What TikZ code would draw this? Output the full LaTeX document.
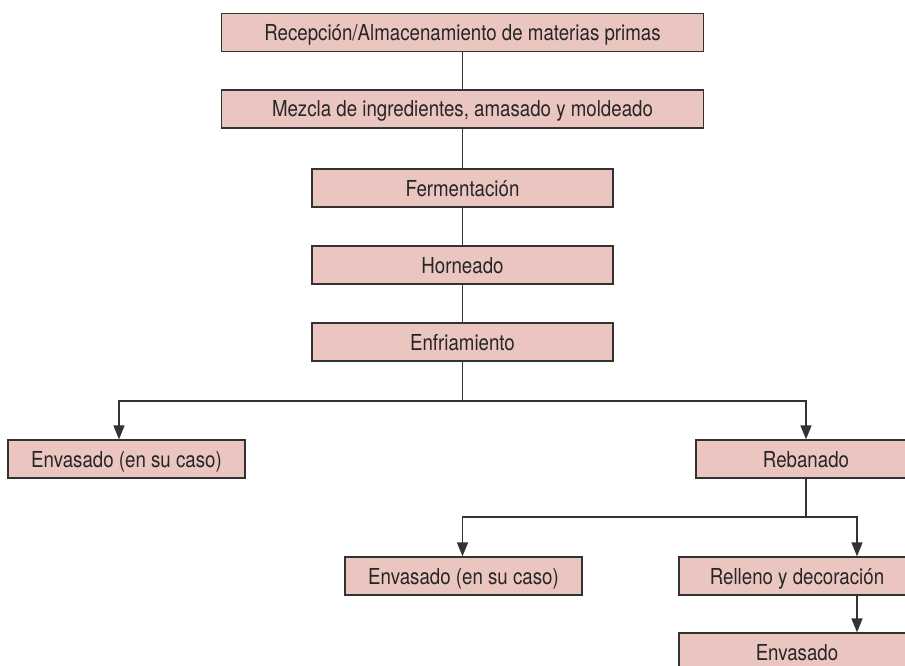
\documentclass[tikz,border=0pt]{standalone}
\usepackage{fontspec}
\setmainfont{TeX Gyre Heros}[FakeStretch=0.85]
\usetikzlibrary{arrows.meta}
\definecolor{rosa}{HTML}{EBC5BF}
\definecolor{borde}{HTML}{333333}
\tikzset{
  paso/.style={draw=borde, fill=rosa, line width=1.3pt, minimum height=38pt,
    inner sep=0pt, text height=16pt, text depth=0pt, text=black!85,
    font=\fontsize{22}{24}\selectfont},
  flecha/.style={-{Triangle[length=14pt,width=11pt]}},
}
\begin{document}
\begin{tikzpicture}[x=1pt,y=1pt,line width=1.5pt,draw=borde]
    \useasboundingbox (0,0) rectangle (905,-666);
    \clip (0,0) rectangle (905,-666);
    \node[paso, minimum width=482pt] (rec) at (462.5,-32.5) {Recepción/Almacenamiento de materias primas};
    \node[paso, minimum width=482pt] (mez) at (462.5,-109) {Mezcla de ingredientes, amasado y moldeado};
    \node[paso, minimum width=301pt] (fer) at (462.5,-188) {Fermentación};
    \node[paso, minimum width=301pt] (hor) at (462.5,-265) {Horneado};
    \node[paso, minimum width=301pt] (enf) at (462.5,-342) {Enfriamiento};
    \node[paso, minimum width=237pt] (envA) at (126.5,-459) {Envasado (en su caso)};
    \node[paso, minimum width=220pt] (reb) at (806,-459) {Rebanado};
    \node[paso, minimum width=237pt] (envB) at (463.5,-576) {Envasado (en su caso)};
    \node[paso, minimum width=236pt] (rel) at (797,-576) {Relleno y decoración};
    \node[paso, minimum width=236pt] (env) at (797,-652) {Envasado};
    \foreach \a/\b in {rec/mez, mez/fer, fer/hor, hor/enf}
    {\draw (\a) -- (\b);}
    % ramas
    \coordinate (s1) at (462.5,-401);
    \coordinate (xa) at (119,0);
    \draw (enf.south) -- (s1);
    \draw[flecha] (s1) -| (envA.north -| xa);
    \draw[flecha] (s1) -| (reb.north);
    \coordinate (s2) at (806,-517);
    \coordinate (xr) at (857,0);
    \draw (reb.south) -- (s2);
    \draw[flecha] (s2) -| (envB.north -| s1);
    \draw[flecha] (s2) -| (rel.north -| xr);
    \draw[flecha] (rel.south -| xr) -- (env.north -| xr);
\end{tikzpicture}
\end{document}
